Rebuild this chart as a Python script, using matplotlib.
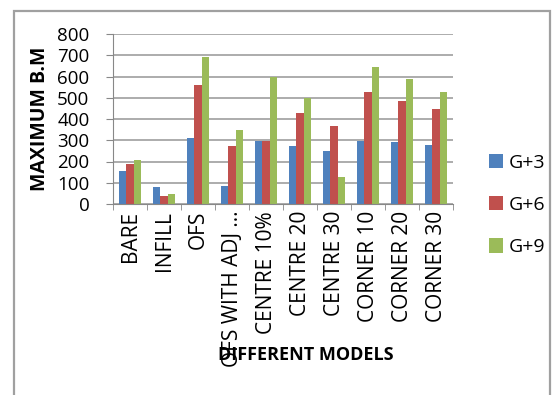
import matplotlib.pyplot as plt
import numpy as np
from matplotlib.patches import Rectangle

models = ['BARE', 'INFILL', 'OFS', 'OFS WITH ADJ ...', 'CENTRE 10%', 'CENTRE 20',
          'CENTRE 30', 'CORNER 10', 'CORNER 20', 'CORNER 30']
g3 = [155, 80, 310, 85, 296, 275, 248, 298, 290, 280]
g6 = [187, 37, 558, 275, 296, 430, 368, 528, 485, 445]
g9 = [207, 48, 690, 347, 600, 500, 125, 645, 588, 527]

colors = ['#4F81BD', '#C0504D', '#9BBB59']
plt.rcParams['font.family'] = ['Open Sans', 'DejaVu Sans']

fig = plt.figure(figsize=(5.53, 3.95), dpi=100)
# light frame round the whole chart
fig.patches.append(Rectangle((14 / 553, -0.05), 536 / 553, 1 - 11 / 395 + 0.05,
                             transform=fig.transFigure, fill=False,
                             edgecolor='#A0A0A0', linewidth=1.6))

ax = fig.add_axes([113 / 553, 1 - 204 / 395, 340 / 553, 170 / 395])
x = np.arange(len(models))
w = 0.22
ax.bar(x - w, g3, w, color=colors[0], label='G+3')
ax.bar(x, g6, w, color=colors[1], label='G+6')
ax.bar(x + w, g9, w, color=colors[2], label='G+9')

ax.set_ylim(0, 800)
ax.set_yticks(range(0, 801, 100))
ax.set_xlim(-0.5, len(models) - 0.5)
ax.set_xticks(x)
ax.set_xticklabels(models, rotation=90, fontsize=15)
ax.tick_params(axis='x', length=0, pad=5)
ax.set_xticks(np.arange(-0.5, len(models), 1), minor=True)
ax.tick_params(axis='x', which='minor', length=4, color='#888888')
ax.tick_params(axis='y', labelsize=13.5, length=5, color='#888888', pad=12)

ax.grid(axis='y', color='#A6A6A6', linewidth=1.3)
ax.set_axisbelow(True)
for s in ['top', 'right']:
    ax.spines[s].set_visible(False)
ax.spines['left'].set_color('#888888')
ax.spines['bottom'].set_color('#888888')

ax.set_ylabel('MAXIMUM B.M', fontsize=14, fontweight='bold', labelpad=5)
fig.text(306 / 553, 1 - 355 / 395, 'DIFFERENT MODELS', fontsize=13,
         fontweight='bold', ha='center', va='center')

fig.legend(loc='center left', bbox_to_anchor=(471 / 553, 1 - 205 / 395),
           frameon=False, fontsize=14, handlelength=0.75, handleheight=0.75,
           labelspacing=1.25, handletextpad=0.3)

fig.savefig('out.png', dpi=100)
